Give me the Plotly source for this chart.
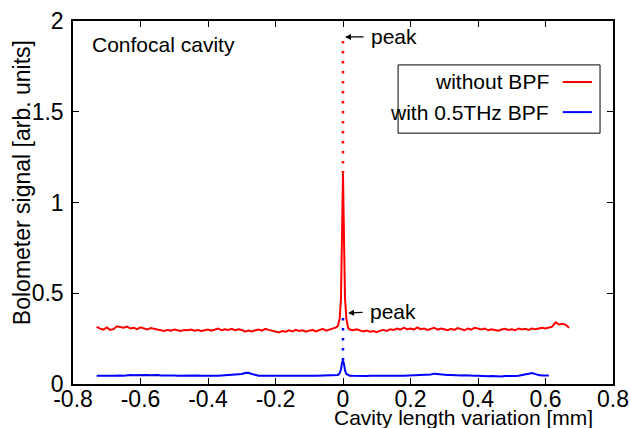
import numpy as np
import plotly.graph_objects as go

# ---------------- data ----------------
red_left_x = np.round(np.arange(-0.73, -0.015, 0.01), 3).tolist()
red_left_y = [0.315, 0.305, 0.300, 0.312, 0.298, 0.302, 0.318, 0.314, 0.310, 0.316,
              0.306, 0.310, 0.302, 0.312, 0.306, 0.300, 0.308, 0.304, 0.302, 0.296,
              0.292, 0.298, 0.294, 0.300, 0.296, 0.292, 0.298, 0.296, 0.300, 0.294,
              0.298, 0.292, 0.296, 0.300, 0.294, 0.298, 0.306, 0.296, 0.302, 0.298,
              0.304, 0.296, 0.302, 0.298, 0.288, 0.294, 0.290, 0.296, 0.300, 0.294,
              0.304, 0.298, 0.292, 0.290, 0.284, 0.292, 0.288, 0.296, 0.290, 0.298,
              0.292, 0.296, 0.288, 0.294, 0.298, 0.290, 0.296, 0.304, 0.294, 0.300,
              0.306, 0.312]
red_peak_x = [-0.015, -0.01, -0.006, -0.003, 0.0, 0.003, 0.006, 0.01, 0.015]
red_peak_y = [0.320, 0.360, 0.470, 0.800, 1.160, 0.800, 0.470, 0.360, 0.310]
red_right_x = np.round(np.arange(0.02, 0.675, 0.01), 3).tolist()
red_right_y = [0.300, 0.296, 0.302, 0.296, 0.290, 0.294, 0.288, 0.292, 0.286, 0.294,
               0.298, 0.292, 0.302, 0.298, 0.306, 0.300, 0.310, 0.302, 0.306, 0.300,
               0.312, 0.302, 0.306, 0.298, 0.304, 0.310, 0.300, 0.306, 0.302, 0.296,
               0.304, 0.298, 0.308, 0.302, 0.296, 0.306, 0.300, 0.310, 0.304, 0.300,
               0.306, 0.296, 0.302, 0.298, 0.294, 0.300, 0.304, 0.298, 0.302, 0.296,
               0.306, 0.300, 0.304, 0.298, 0.306, 0.302, 0.308, 0.310, 0.306, 0.312,
               0.316, 0.340, 0.328, 0.332, 0.326, 0.310]

blue_left_x = red_left_x
blue_left_y = [0.046, 0.045, 0.047, 0.046, 0.045, 0.046, 0.048, 0.047, 0.046, 0.049,
               0.050, 0.048, 0.049, 0.051, 0.050, 0.049, 0.048, 0.050, 0.049, 0.047,
               0.048, 0.047, 0.046, 0.047, 0.045, 0.046, 0.047, 0.046, 0.045, 0.046,
               0.047, 0.046, 0.045, 0.047, 0.046, 0.045, 0.046, 0.047, 0.048, 0.049,
               0.050, 0.051, 0.053, 0.055, 0.060, 0.062, 0.055, 0.049, 0.046, 0.045,
               0.046, 0.045, 0.044, 0.046, 0.045, 0.044, 0.045, 0.046, 0.045, 0.046,
               0.045, 0.046, 0.047, 0.046, 0.045, 0.046, 0.047, 0.048, 0.047, 0.046,
               0.047, 0.048]
blue_peak_x = red_peak_x
blue_peak_y = [0.050, 0.060, 0.080, 0.115, 0.130, 0.110, 0.075, 0.055, 0.048]
blue_right_x = np.round(np.arange(0.02, 0.615, 0.01), 3).tolist()
blue_right_y = [0.046, 0.045, 0.044, 0.045, 0.046, 0.044, 0.045, 0.044, 0.045, 0.044,
                0.045, 0.046, 0.045, 0.044, 0.046, 0.045, 0.046, 0.047, 0.046, 0.048,
                0.047, 0.048, 0.049, 0.050, 0.052, 0.057, 0.054, 0.051, 0.050, 0.049,
                0.050, 0.048, 0.049, 0.047, 0.048, 0.046, 0.047, 0.045, 0.046, 0.044,
                0.045, 0.043, 0.044, 0.042, 0.043, 0.042, 0.044, 0.043, 0.045, 0.044,
                0.046, 0.048, 0.052, 0.056, 0.060, 0.054, 0.049, 0.047, 0.048, 0.047]

red_x = red_left_x + red_peak_x + red_right_x
red_y = red_left_y + red_peak_y + red_right_y
blue_x = blue_left_x + blue_peak_x + blue_right_x
blue_y = blue_left_y + blue_peak_y + blue_right_y

red_peak_ext_x = [0.0, 0.0]
red_peak_ext_y = [1.16, 1.92]
blue_peak_ext_x = [0.0, 0.0]
blue_peak_ext_y = [0.13, 0.37]

x_ticks = [-0.8, -0.6, -0.4, -0.2, 0, 0.2, 0.4, 0.6, 0.8]
x_tick_labels = ["-0.8", "-0.6", "-0.4", "-0.2", "0", "0.2", "0.4", "0.6", "0.8"]
y_ticks = [0, 0.5, 1, 1.5, 2]
y_tick_labels = ["0", "0.5", "1", "1.5", "2"]

series_names = ["without BPF", "with 0.5THz BPF"]
series_colors = ["#ff0000", "#0000ff"]

FONT = "Liberation Sans, Arial, Helvetica, sans-serif"
FS = 21
FS_TICK = 23
FS_YLAB = 23

fig = go.Figure()
fig.add_trace(go.Scatter(x=red_peak_ext_x, y=red_peak_ext_y, mode="lines",
                         line=dict(color=series_colors[0], width=2.5, dash="2.5px,7.5px"),
                         showlegend=False, hoverinfo="skip"))
fig.add_trace(go.Scatter(x=blue_peak_ext_x, y=blue_peak_ext_y, mode="lines",
                         line=dict(color=series_colors[1], width=2.5, dash="2.5px,7.5px"),
                         showlegend=False, hoverinfo="skip"))
fig.add_trace(go.Scatter(x=red_x, y=red_y, mode="lines", name=series_names[0],
                         line=dict(color=series_colors[0], width=2), showlegend=False))
fig.add_trace(go.Scatter(x=blue_x, y=blue_y, mode="lines", name=series_names[1],
                         line=dict(color=series_colors[1], width=2), showlegend=False))

axis_common = dict(showline=True, linecolor="black", linewidth=1.5, mirror="allticks",
                   ticks="inside", ticklen=6, tickwidth=1.2, tickcolor="black",
                   showgrid=False, zeroline=False, automargin=False,
                   tickfont=dict(family=FONT, size=FS_TICK, color="black"))
fig.update_xaxes(range=[-0.8, 0.8], tickvals=x_ticks, ticktext=x_tick_labels,
                 ticklabelstandoff=-6, **axis_common)
fig.update_yaxes(range=[0, 2], tickvals=y_ticks, ticktext=y_tick_labels,
                 ticklabelstandoff=3, **axis_common)

# manual legend (text left of the line sample, as in the reference)
shapes = [dict(type="rect", xref="paper", yref="paper", x0=0.602, x1=0.976, y0=0.691, y1=0.879,
               line=dict(color="black", width=1), fillcolor="white", layer="above")]
annotations = []
leg_rows = [0.832, 0.749]
for name, col, yy in zip(series_names, series_colors, leg_rows):
    shapes.append(dict(type="line", xref="paper", yref="paper", x0=0.907, x1=0.961, y0=yy, y1=yy,
                       line=dict(color=col, width=2), layer="above"))
    annotations.append(dict(xref="paper", yref="paper", x=0.885, y=yy, text=name, showarrow=False,
                            xanchor="right", yanchor="middle", font=dict(family=FONT, size=FS, color="black")))

annotations += [
    dict(xref="paper", yref="paper", x=0.031, y=0.934, text="Confocal cavity", showarrow=False,
         xanchor="left", yanchor="middle", font=dict(family=FONT, size=FS, color="black")),
    dict(xref="paper", yref="paper", x=0.724, y=-0.093, text="Cavity length variation [mm]",
         showarrow=False, xanchor="center", yanchor="middle", font=dict(family=FONT, size=FS, color="black")),
    dict(xref="paper", yref="paper", x=-0.094, y=0.554, text="Bolometer signal [arb. units]",
         showarrow=False, textangle=-90, xanchor="center", yanchor="middle",
         font=dict(family=FONT, size=FS_YLAB, color="black")),
    dict(x=0.006, y=1.912, xref="x", yref="y", text="peak", showarrow=True, ax=49, ay=0,
         arrowhead=2, arrowsize=1, arrowwidth=1.2, arrowcolor="black", startstandoff=6,
         font=dict(family=FONT, size=FS, color="black")),
    dict(x=0.015, y=0.391, xref="x", yref="y", text="peak", showarrow=True, ax=45, ay=-2,
         arrowhead=2, arrowsize=1, arrowwidth=1.2, arrowcolor="black", startstandoff=6,
         font=dict(family=FONT, size=FS, color="black")),
]

fig.update_layout(width=630, height=428, margin=dict(l=73, r=17, t=21, b=44, autoexpand=False),
                  plot_bgcolor="white", paper_bgcolor="white", showlegend=False,
                  shapes=shapes, annotations=annotations,
                  font=dict(family=FONT, size=FS, color="black"))

fig.write_html("out.html", config={"displayModeBar": False},
               post_script="document.body.style.margin='0';document.body.style.padding='0';")
